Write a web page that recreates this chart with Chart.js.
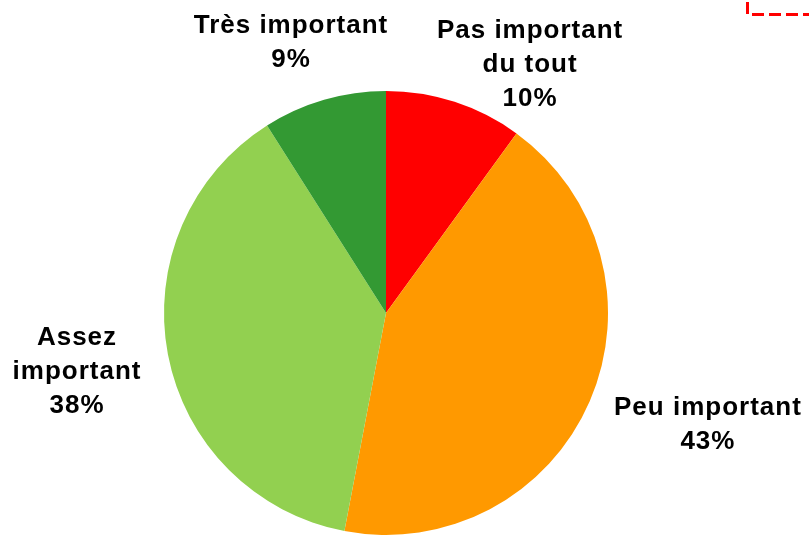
<!DOCTYPE html>
<html>
<head>
<meta charset="utf-8">
<script src="https://cdn.jsdelivr.net/npm/chart.js@4"></script>
<style>
  html, body { margin: 0; padding: 0; background: #fff; }
  #wrap { position: relative; width: 809px; height: 536px; }
</style>
</head>
<body>
<div id="wrap"><canvas id="pieChart" width="809" height="536"></canvas></div>
<script>
// catégories (lignes du libellé) et pourcentages
const categories = [['Pas important', 'du tout'], ['Peu important'], ['Assez', 'important'], ['Très important']];
const values = [10, 43, 38, 9];
const sliceColors = ['#FF0000', '#FF9900', '#92D050', '#339933'];

// position des étiquettes, en rayons depuis le centre (x centre, ligne de base de la 1re ligne)
const labelAnchor = [[0.649, -1.239], [1.450, 0.459], [-1.392, 0.144], [-0.428, -1.261]];

const sliceLabels = {
    id: 'sliceLabels',
    afterDraw(chart) {
        const ctx = chart.ctx;
        const arcs = chart.getDatasetMeta(0).data;
        ctx.save();
        ctx.fillStyle = '#000';
        ctx.font = 'bold 26px "Liberation Sans", Arial, sans-serif';
        ctx.letterSpacing = '1px';
        ctx.textAlign = 'center';
        ctx.textBaseline = 'alphabetic';
        arcs.forEach((arc, i) => {
            const r = arc.outerRadius;
            const x = arc.x + labelAnchor[i][0] * r;
            let y = arc.y + labelAnchor[i][1] * r;
            const lines = categories[i].concat([values[i] + '%']);
            lines.forEach(line => { ctx.fillText(line, x, y); y += 34; });
        });
        ctx.restore();
        // cadre pointillé rouge coupé en haut à droite
        ctx.save();
        ctx.strokeStyle = '#FF0000';
        ctx.lineWidth = 3;
        ctx.setLineDash([12, 5]);
        ctx.beginPath();
        ctx.moveTo(747.5, 2);
        ctx.lineTo(747.5, 14.5);
        ctx.lineTo(812, 14.5);
        ctx.stroke();
        ctx.restore();
    }
};

new Chart(document.getElementById('pieChart').getContext('2d'), {
    type: 'pie',
    data: {
        labels: categories,
        datasets: [{ data: values, backgroundColor: sliceColors, borderWidth: 0, hoverOffset: 0 }]
    },
    options: {
        responsive: false,
        animation: false,
        layout: { padding: { top: 91, bottom: 1, left: 100, right: 137 } },
        plugins: { legend: { display: false }, tooltip: { enabled: false } }
    },
    plugins: [sliceLabels]
});
</script>
</body>
</html>
